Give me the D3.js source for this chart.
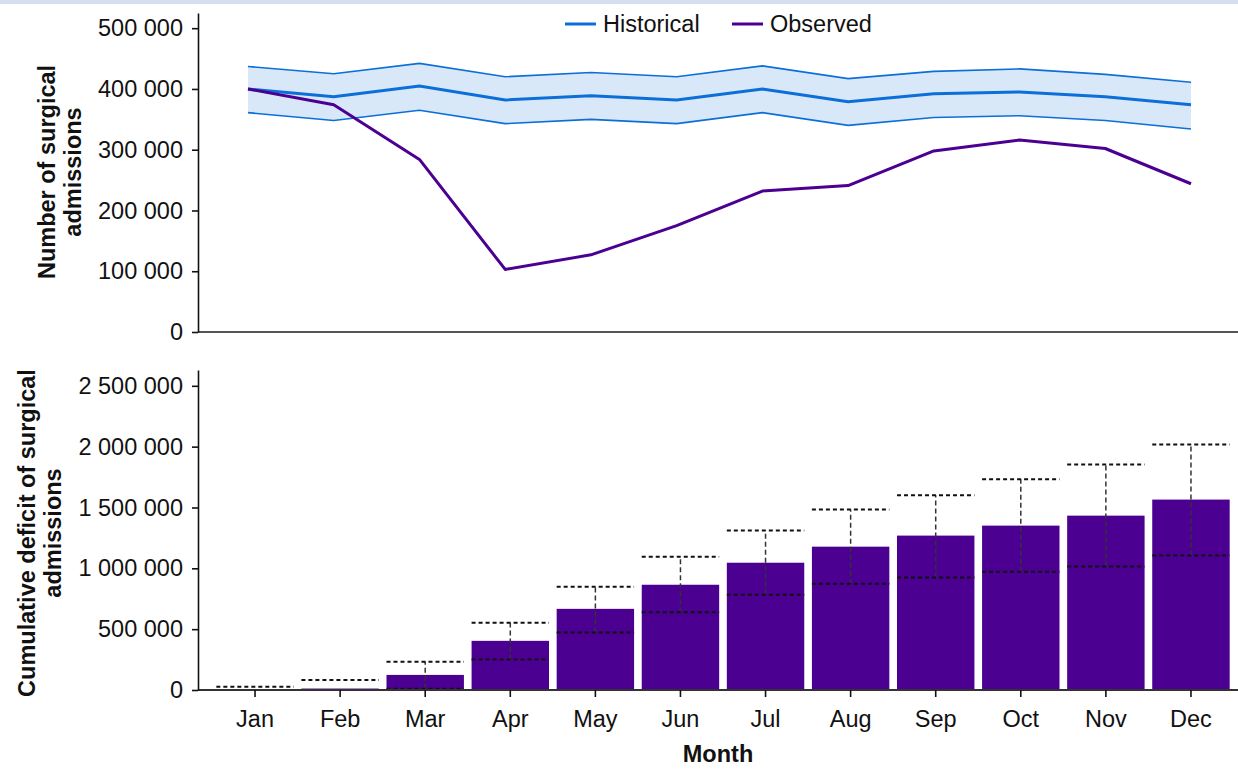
<!DOCTYPE html>
<html>
<head>
<meta charset="utf-8">
<script src="https://cdn.jsdelivr.net/npm/d3@7"></script>
<style>
  html, body { margin: 0; padding: 0; background: #fff; }
  body { font-family: "Liberation Sans", Arial, sans-serif; }
  #vis { width: 1238px; height: 770px; }
</style>
</head>
<body>
<div id="vis"></div>
<script>
'use strict'

////////////////////////////////////////
//////////////// Data //////////////////
////////////////////////////////////////

const months = ["Jan", "Feb", "Mar", "Apr", "May", "Jun", "Jul", "Aug", "Sep", "Oct", "Nov", "Dec"];

// top panel: monthly surgical admissions
const historicalMean  = [400000, 387000, 405000, 382000, 389000, 382000, 400000, 379000, 392000, 395000, 387000, 374000];
const historicalUpper = [437000, 425000, 442000, 420000, 427000, 420000, 438000, 417000, 429000, 433000, 424000, 411000];
const historicalLower = [361000, 348000, 365000, 343000, 350000, 343000, 361000, 340000, 353000, 356000, 348000, 334000];
const observed        = [400000, 374000, 284000, 103000, 127000, 175000, 232000, 241000, 298000, 316000, 302000, 244000];

// bottom panel: cumulative deficit with interval
const deficit      = [0, 12000, 124000, 404000, 667000, 865000, 1046000, 1178000, 1269000, 1351000, 1433000, 1565000];
const deficitUpper = [27000, 82000, 233000, 552000, 848000, 1096000, 1310000, 1483000, 1601000, 1733000, 1853000, 2018000];
const deficitLower = [null, null, 11000, 250000, 472000, 640000, 782000, 873000, 925000, 972000, 1016000, 1106000];

const topTicks = [0, 100000, 200000, 300000, 400000, 500000];
const bottomTicks = [0, 500000, 1000000, 1500000, 2000000, 2500000];

const legendItems = ["Historical", "Observed"];

////////////////////////////////////////
/////////////// Options ////////////////
////////////////////////////////////////

const options = {
  width: 1238,
  height: 770,
  fontSize: 23.5,
  blue: "#0c6fd9",
  band: "#d8e8f8",
  purple: "#4b0092",
  axisX: 198
}

const fmt = d3.formatLocale({ decimal: ".", thousands: "\u00a0", grouping: [3], currency: ["", ""] }).format(",");

////////////////////////////////////////
////////////// SVG Setup ///////////////
////////////////////////////////////////

const svg = d3.select('#vis').append('svg')
  .attr('width', options.width)
  .attr('height', options.height)
  .style('font-family', '"Liberation Sans", Arial, sans-serif');

// thin strip along the top edge
svg.append('rect')
  .attr('x', 0).attr('y', 0)
  .attr('width', options.width).attr('height', 4)
  .attr('fill', '#d5dff0');

////////////////////////////////////////
////////////// Scales //////////////////
////////////////////////////////////////

const xTop = d3.scalePoint().domain(months).range([248, 1191]);
const yTop = d3.scaleLinear().domain([0, 525000]).range([332, 13]);

const xBottom = d3.scaleBand().domain(months).range([212.5, 1233.5])
  .paddingInner(0.09).paddingOuter(0.045);
const yBottom = d3.scaleLinear().domain([0, 2630000]).range([690, 370]);

////////////////////////////////////////
////////////// Top panel ///////////////
////////////////////////////////////////

const topData = months.map((m, i) => ({
  month: m,
  mean: historicalMean[i],
  upper: historicalUpper[i],
  lower: historicalLower[i],
  obs: observed[i]
}));

const area = d3.area()
  .x(d => xTop(d.month))
  .y0(d => yTop(d.lower))
  .y1(d => yTop(d.upper));

svg.append('path')
  .datum(topData)
  .attr('fill', options.band)
  .attr('d', area);

const lineOf = key => d3.line().x(d => xTop(d.month)).y(d => yTop(d[key]));

['upper', 'lower'].forEach(k => {
  svg.append('path')
    .datum(topData)
    .attr('fill', 'none')
    .attr('stroke', options.blue)
    .attr('stroke-width', 1.6)
    .attr('d', lineOf(k));
});

svg.append('path')
  .datum(topData)
  .attr('fill', 'none')
  .attr('stroke', options.blue)
  .attr('stroke-width', 3)
  .attr('d', lineOf('mean'));

svg.append('path')
  .datum(topData)
  .attr('fill', 'none')
  .attr('stroke', options.purple)
  .attr('stroke-width', 3)
  .attr('stroke-linejoin', 'round')
  .attr('d', lineOf('obs'));

// top x baseline
svg.append('line')
  .attr('x1', options.axisX).attr('x2', options.width)
  .attr('y1', yTop(0)).attr('y2', yTop(0))
  .attr('stroke', '#555').attr('stroke-width', 2);

const yAxisTop = svg.append('g')
  .attr('transform', `translate(${options.axisX},0)`)
  .call(d3.axisLeft(yTop).tickValues(topTicks).tickFormat(fmt).tickSize(6).tickPadding(9).tickSizeOuter(0));

////////////////////////////////////////
///////////// Bottom panel /////////////
////////////////////////////////////////

const bottomData = months.map((m, i) => ({
  month: m,
  value: deficit[i],
  upper: deficitUpper[i],
  lower: deficitLower[i]
}));

svg.append('g')
  .selectAll('rect')
  .data(bottomData)
  .join('rect')
  .attr('x', d => xBottom(d.month))
  .attr('y', d => yBottom(d.value))
  .attr('width', xBottom.bandwidth())
  .attr('height', d => yBottom(0) - yBottom(d.value))
  .attr('fill', options.purple);

const err = svg.append('g');

err.selectAll('line.stem')
  .data(bottomData.filter(d => d.lower != null))
  .join('line')
  .attr('class', 'stem')
  .attr('x1', d => xBottom(d.month) + xBottom.bandwidth() / 2)
  .attr('x2', d => xBottom(d.month) + xBottom.bandwidth() / 2)
  .attr('y1', d => yBottom(d.lower))
  .attr('y2', d => yBottom(d.upper))
  .attr('stroke', '#333')
  .attr('stroke-width', 1.5)
  .attr('stroke-dasharray', '5,3');

const caps = bottomData.flatMap(d => [
  { month: d.month, v: d.upper },
  ...(d.lower != null ? [{ month: d.month, v: d.lower }] : [])
]);

err.selectAll('line.cap')
  .data(caps)
  .join('line')
  .attr('class', 'cap')
  .attr('x1', d => xBottom(d.month))
  .attr('x2', d => xBottom(d.month) + xBottom.bandwidth())
  .attr('y1', d => yBottom(d.v))
  .attr('y2', d => yBottom(d.v))
  .attr('stroke', '#111')
  .attr('stroke-width', 2)
  .attr('stroke-dasharray', '4,3');

const xAxisBottom = svg.append('g')
  .attr('transform', `translate(0,${yBottom(0)})`)
  .call(d3.axisBottom(xBottom).tickSize(7).tickPadding(13).tickSizeOuter(0));

xAxisBottom.select('.domain')
  .attr('d', `M${options.axisX},0H${options.width}`);

const yAxisBottom = svg.append('g')
  .attr('transform', `translate(${options.axisX},0)`)
  .call(d3.axisLeft(yBottom).tickValues(bottomTicks).tickFormat(fmt).tickSize(6).tickPadding(9).tickSizeOuter(0));

////////////////////////////////////////
/////////////// Styling ////////////////
////////////////////////////////////////

[yAxisTop, yAxisBottom, xAxisBottom].forEach(g => {
  g.selectAll('text')
    .attr('fill', '#111')
    .style('font-size', options.fontSize + 'px')
    .style('font-family', '"Liberation Sans", Arial, sans-serif');
  g.selectAll('line').attr('stroke', '#111').attr('stroke-width', 1.6);
  g.select('.domain').attr('stroke', '#111').attr('stroke-width', 1.6);
});
xAxisBottom.select('.domain').attr('stroke', '#333').attr('stroke-width', 2);

////////////////////////////////////////
/////////////// Titles /////////////////
////////////////////////////////////////

function yTitle(lines, cx, cy) {
  const t = svg.append('text')
    .attr('transform', `translate(${cx},${cy}) rotate(-90)`)
    .attr('text-anchor', 'middle')
    .attr('font-weight', 'bold')
    .attr('fill', '#111')
    .style('font-size', options.fontSize + 'px');
  lines.forEach((l, i) => {
    t.append('tspan').attr('x', 0).attr('y', i * 26).text(l);
  });
}

yTitle(["Number of surgical", "admissions"], 55, 172);
yTitle(["Cumulative deficit of surgical", "admissions"], 35, 533);

svg.append('text')
  .attr('x', 718).attr('y', 762)
  .attr('text-anchor', 'middle')
  .attr('font-weight', 'bold')
  .attr('fill', '#111')
  .style('font-size', options.fontSize + 'px')
  .text('Month');

////////////////////////////////////////
/////////////// Legend /////////////////
////////////////////////////////////////

const legendColor = d3.scaleOrdinal().domain(legendItems).range([options.blue, options.purple]);
const legendX = d3.scaleOrdinal().domain(legendItems).range([565, 732]);

const legend = svg.append('g')
  .selectAll('g')
  .data(legendItems)
  .join('g')
  .attr('transform', d => `translate(${legendX(d)},24)`);

legend.append('line')
  .attr('x1', 0).attr('x2', 31)
  .attr('stroke', d => legendColor(d))
  .attr('stroke-width', 3);

legend.append('text')
  .attr('x', 38)
  .attr('dy', '0.35em')
  .attr('fill', '#111')
  .style('font-size', options.fontSize + 'px')
  .text(d => d);
</script>
</body>
</html>
